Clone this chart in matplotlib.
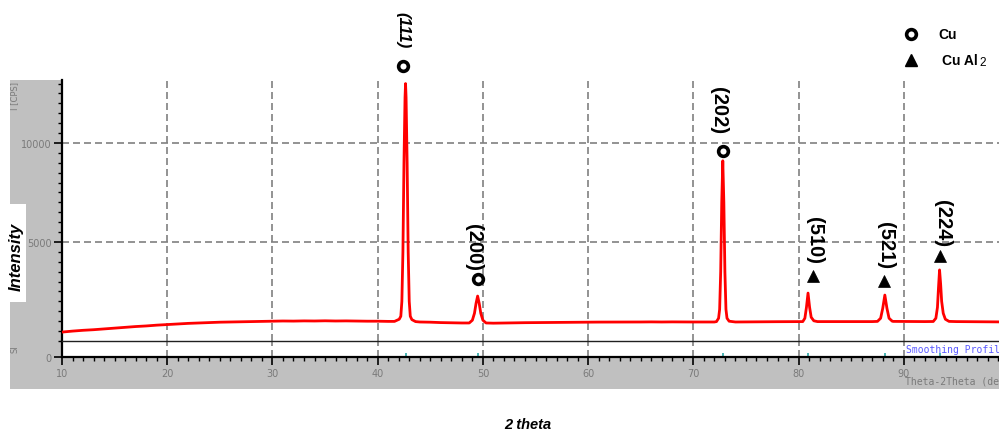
import matplotlib
matplotlib.use('Agg')
import matplotlib.pyplot as plt
from matplotlib.patches import Rectangle
from matplotlib.lines import Line2D
from matplotlib.ticker import MultipleLocator

# ---------------- data ----------------
two_theta = [10, 11, 12, 13, 14, 15, 16, 17, 18, 19, 20, 21, 22, 23, 24, 25, 26, 27, 28, 29,
             30, 31, 32, 33, 34, 35, 36, 37, 38, 39, 40, 41, 41.6,
             42.05, 42.2, 42.3, 42.4, 42.5, 42.6, 42.65, 42.7, 42.8, 42.9, 43.0, 43.1, 43.25, 43.6,
             44, 45, 46, 47, 48, 48.7,
             49.0, 49.2, 49.35, 49.5, 49.65, 49.8, 50.0, 50.3,
             51, 52, 53, 54, 55, 56, 57, 58, 59, 60, 61, 62, 63, 64, 65, 66, 67, 68, 69, 70, 71, 72, 72.2,
             72.4, 72.5, 72.6, 72.7, 72.8, 72.9, 73.0, 73.1, 73.2, 73.4, 73.8,
             74, 75, 76, 77, 78, 79, 80, 80.4,
             80.6, 80.75, 80.9, 81.05, 81.2, 81.45, 81.8,
             82, 83, 84, 85, 86, 87, 87.5,
             87.8, 88.0, 88.2, 88.4, 88.6, 88.9,
             89, 90, 91, 92, 92.8,
             93.05, 93.2, 93.3, 93.4, 93.5, 93.6, 93.75, 93.95, 94.3,
             95, 96, 97, 98, 99, 100]
counts = [450, 500, 540, 570, 610, 650, 690, 730, 760, 800, 830, 860, 890, 910, 930, 950, 960, 975, 985, 990,
          1000, 1010, 1005, 1015, 1010, 1020, 1010, 1015, 1005, 1000, 1000, 990, 990,
          1100, 1250, 2000, 4500, 9000, 12300, 13000, 12300, 9000, 4500, 2000, 1250, 1080, 980,
          960, 950, 930, 920, 910, 910,
          1050, 1400, 1900, 2270, 1900, 1400, 1050, 910,
          900, 910, 920, 925, 930, 935, 940, 945, 950, 950, 955, 955, 960, 960, 960, 965, 960, 965, 960, 960, 960, 960, 980,
          1150, 1600, 3500, 7000, 9100, 7000, 3500, 1600, 1150, 1000, 970,
          960, 965, 970, 970, 975, 975, 980, 980,
          1150, 1700, 2420, 1700, 1200, 1020, 980,
          980, 985, 985, 980, 985, 980, 990,
          1150, 1650, 2320, 1650, 1150, 1000,
          990, 985, 980, 980, 985,
          1150, 1700, 2700, 3590, 2900, 2000, 1400, 1100, 990,
          980, 975, 970, 970, 965, 960]

peak_labels = ['(111)', '(200)', '(202)', '(510)', '(521)', '(224)']
peak_phase = ['Cu', 'Cu', 'Cu', 'CuAl2', 'CuAl2', 'CuAl2']
peak_2theta = [42.65, 49.5, 72.8, 80.9, 88.2, 93.4]
marker_x = [42.45, 49.55, 72.85, 81.4, 88.15, 93.45]
marker_y = [13890, 3130, 9600, 3280, 3030, 4290]
label_x = [42.4, 49.1, 72.35, 81.5, 88.25, 93.65]
label_y = [15760, 4750, 11670, 5150, 4850, 5960]

x_ticks = [10, 20, 30, 40, 50, 60, 70, 80, 90, 100]
y_ticks = [5000, 10000]

# ---------------- figure ----------------
W, H = 999, 435
fig = plt.figure(figsize=(W / 100, H / 100), dpi=100)


def fx(px):
    return px / W


def fy(py):
    return 1 - py / H


ANN = 'Liberation Sans'
GRAY_TXT = '#7a7a7a'
GRID = dict(color='#808080', linewidth=1.2, linestyle=(0, (4.2, 2.4)))

fig.patches.append(Rectangle((fx(10), fy(390)), 1.0, (390 - 81) / H, transform=fig.transFigure,
                             facecolor='#c0c0c0', edgecolor='none', zorder=-2))
fig.patches.append(Rectangle((fx(8), fy(303)), fx(18), (303 - 205) / H, transform=fig.transFigure,
                             facecolor='white', edgecolor='none', zorder=-1))

ax_w = (1009 - 62) / W
ax = fig.add_axes([fx(62), fy(342), ax_w, (342 - 81) / H])
sub = fig.add_axes([fx(62), fy(358), ax_w, (358 - 342) / H])
sub.set_zorder(0)
ax.set_zorder(1)

# main panel
ax.set_xlim(10, 100)
ax.set_ylim(0, 13180)
ax.plot(two_theta, counts, color='#ff0000', lw=2.0, solid_joinstyle='round', zorder=3)
for s in ['top', 'right']:
    ax.spines[s].set_visible(False)
ax.spines['left'].set_linewidth(1.6)
ax.spines['bottom'].set_linewidth(1.0)
ax.spines['bottom'].set_color('#202020')
ax.set_xticks(x_ticks)
ax.tick_params(axis='x', length=0, labelbottom=False)
ax.set_yticks(y_ticks)
ax.set_yticklabels([str(v) for v in y_ticks])
ax.yaxis.set_minor_locator(MultipleLocator(500))
ax.tick_params(axis='y', which='major', length=6, width=1.2, pad=1.5, labelsize=7,
               labelcolor=GRAY_TXT, direction='out')
ax.tick_params(axis='y', which='minor', length=3, width=1.0, direction='out')
ax.grid(True, which='major', zorder=1, **GRID)
ax.set_axisbelow(True)

# markers and labels
for lab, ph, mx, my, lx, ly in zip(peak_labels, peak_phase, marker_x, marker_y, label_x, label_y):
    if ph == 'Cu':
        ax.plot([mx], [my], marker='o', ms=7, mfc='white', mec='black', mew=2.6,
                clip_on=False, zorder=5)
    else:
        ax.plot([mx], [my], marker='^', ms=8.5, mfc='black', mec='black', mew=0.5,
                clip_on=False, zorder=5)
    if lab == '(111)':
        ax.text(lx, ly, lab, rotation=-90, ha='center', va='center', fontsize=12,
                fontstyle='italic', fontweight='bold', family=ANN, clip_on=False)
    else:
        ax.text(lx, ly, lab, rotation=-90, ha='center', va='center', fontsize=14.5,
                fontweight='bold', family=ANN, clip_on=False)

# sub panel
sub.set_xlim(10, 100)
sub.set_ylim(0, 1)
for s in ['top', 'right']:
    sub.spines[s].set_visible(False)
sub.spines['left'].set_linewidth(1.6)
sub.spines['bottom'].set_linewidth(1.6)
sub.set_xticks(x_ticks)
sub.set_xticklabels([str(v) for v in x_ticks])
sub.xaxis.set_minor_locator(MultipleLocator(1))
sub.tick_params(axis='x', which='major', length=6, width=1.2, pad=2, labelsize=7,
                labelcolor=GRAY_TXT, direction='out')
sub.tick_params(axis='x', which='minor', length=3, width=1.0, direction='out')
sub.set_yticks([0])
sub.set_yticklabels(['0'])
sub.tick_params(axis='y', length=6, width=1.2, pad=1.5, labelsize=7, labelcolor=GRAY_TXT)
sub.grid(True, axis='x', which='major', **GRID)
sub.set_axisbelow(True)
sub.vlines(peak_2theta, 0, 0.25, color='#2aa7a7', lw=1.2)
sub.text(90.25, 0.5, 'Smoothing Profile', color='#5b5bff', fontsize=7,
         family='DejaVu Sans Mono', va='center', ha='left')

# gray panel texts
fig.text(fx(15), fy(96), 'I [CPS]', rotation=90, ha='center', va='center', fontsize=6,
         color=GRAY_TXT)
fig.text(fx(15), fy(349), 'SI', rotation=90, ha='center', va='center', fontsize=6,
         color=GRAY_TXT)
fig.text(fx(905), fy(382), 'Theta-2Theta (deg)', ha='left', va='center', fontsize=7,
         color=GRAY_TXT, family='DejaVu Sans Mono')
fig.text(fx(16), fy(257), 'Intensity', rotation=90, ha='center', va='center', fontsize=12,
         fontweight='bold', fontstyle='italic', family=ANN)
fig.text(fx(528), fy(425), '2 theta', ha='center', va='center', fontsize=10.5,
         fontweight='bold', fontstyle='italic', family=ANN)

# legend
fig.add_artist(Line2D([fx(911)], [fy(35)], marker='o', ms=7, mfc='white', mec='black', mew=2.6,
                      transform=fig.transFigure))
fig.add_artist(Line2D([fx(911)], [fy(61)], marker='^', ms=8.5, mfc='black', mec='black',
                      transform=fig.transFigure))
fig.text(fx(938), fy(35), 'Cu', ha='left', va='center', fontsize=10, fontweight='bold', family=ANN)
fig.text(fx(942), fy(61), 'Cu Al', ha='left', va='center', fontsize=10, fontweight='bold', family=ANN)
fig.text(fx(979), fy(63), '2', ha='left', va='center', fontsize=8.5, family=ANN)

fig.savefig('out.png', dpi=100)
